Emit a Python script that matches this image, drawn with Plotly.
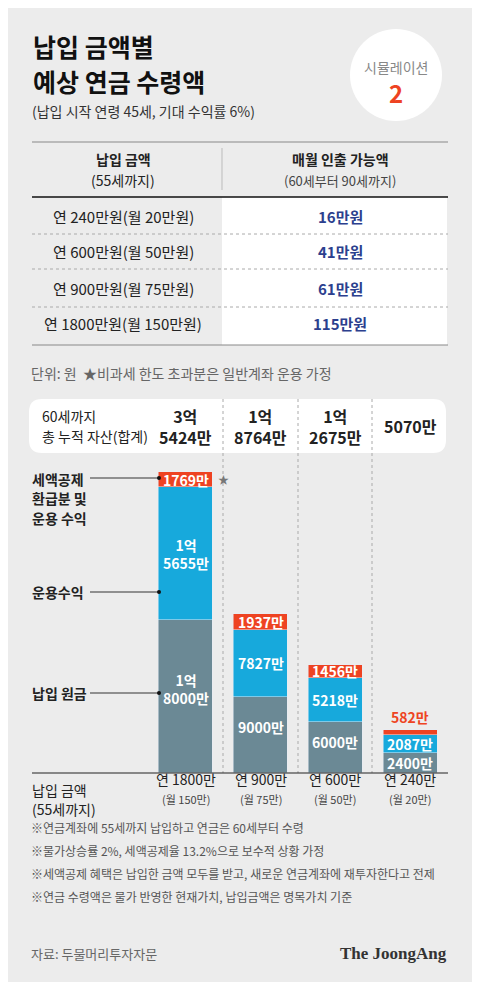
import plotly.graph_objects as go

# data
categories = ["연 1800만", "연 900만", "연 600만", "연 240만"]
monthly = ["(월 150만)", "(월 75만)", "(월 50만)", "(월 20만)"]
principal = [18000, 9000, 6000, 2400]
returns = [15655, 7827, 5218, 2087]
tax_credit = [1769, 1937, 1456, 582]
principal_lbl = ["1억<br>8000만", "9000만", "6000만", "2400만"]
returns_lbl = ["1억<br>5655만", "7827만", "5218만", "2087만"]
credit_lbl = ["1769만", "1937만", "1456만", "582만"]
total_lbl = ["3억<br>5424만", "1억<br>8764만", "1억<br>2675만", "5070만"]

table_pay = ["연 240만원(월 20만원)", "연 600만원(월 50만원)", "연 900만원(월 75만원)", "연 1800만원(월 150만원)"]
table_month = ["16만원", "41만원", "61만원", "115만원"]

notes = ["※연금계좌에 55세까지 납입하고 연금은 60세부터 수령",
         "※물가상승률 2%, 세액공제율 13.2%으로 보수적 상황 가정",
         "※세액공제 혜택은 납입한 금액 모두를 받고, 새로운 연금계좌에 재투자한다고 전제",
         "※연금 수령액은 물가 반영한 현재가치, 납입금액은 명목가치 기준"]

W, H = 480, 982
OFF = 8  # page body margin
FONT = "Noto Sans CJK KR"
GRAY, BLUE, ORANGE = "#6b8995", "#17a9dc", "#ee4322"
NAVY = "#2c3f8e"

def px(x): return (x - OFF) / W
def py(y): return 1 - (y - OFF) / H

fig = go.Figure()
xs = list(range(4))
fig.add_trace(go.Bar(x=xs, y=principal, marker_color=GRAY, width=0.72, hoverinfo="skip"))
fig.add_trace(go.Bar(x=xs, y=returns, marker_color=BLUE, width=0.72, hoverinfo="skip"))
fig.add_trace(go.Bar(x=xs, y=tax_credit, marker_color=ORANGE, width=0.72, hoverinfo="skip"))

ann = []
def text(x, y, t, size=13, color="#222", bold=False, xanchor="left", family=FONT, yanchor="middle"):
    if bold:
        t = "<b>" + t + "</b>"
    ann.append(dict(x=px(x), y=py(y), xref="paper", yref="paper", text=t, showarrow=False,
                    xanchor=xanchor, yanchor=yanchor, align="left" if xanchor == "left" else "center",
                    font=dict(size=size, color=color, family=family)))

# segment labels
for i in xs:
    p, r, c = principal[i], returns[i], tax_credit[i]
    gy = p * 0.55 if i == 0 else (p * 0.5 if i == 3 else p * 0.6)
    ann.append(dict(x=i, y=gy, xref="x", yref="y", text="<b>" + principal_lbl[i] + "</b>",
                    showarrow=False, font=dict(size=14, color="white", family=FONT)))
    ann.append(dict(x=i, y=p + r / 2, xref="x", yref="y", text="<b>" + returns_lbl[i] + "</b>",
                    showarrow=False, font=dict(size=14, color="white", family=FONT)))
    if i < 3:
        ann.append(dict(x=i, y=p + r + c / 2, xref="x", yref="y", text="<b>" + credit_lbl[i] + "</b>",
                        showarrow=False, font=dict(size=14, color="white", family=FONT)))
    else:
        ann.append(dict(x=i, y=p + r + c, xref="x", yref="y", text="<b>" + credit_lbl[i] + "</b>",
                        showarrow=False, yanchor="bottom", yshift=1,
                        font=dict(size=14, color=ORANGE, family=FONT)))
    ann.append(dict(x=i, y=py(426), xref="x", yref="paper", text="<b>" + total_lbl[i] + "</b>",
                    showarrow=False, font=dict(size=16, color="#222", family=FONT)))
    ann.append(dict(x=i, y=py(791), xref="x", yref="paper", text=categories[i],
                    showarrow=False, font=dict(size=14, color="#222", family=FONT)))
    ann.append(dict(x=i, y=py(809), xref="x", yref="paper", text=monthly[i],
                    showarrow=False, font=dict(size=11, color="#444", family=FONT)))

shapes = []
# circle
shapes.append(dict(type="circle", xref="paper", yref="paper", x0=px(350), x1=px(442),
                   y0=py(121), y1=py(29), fillcolor="white", line_width=0))
# table
shapes.append(dict(type="rect", xref="paper", yref="paper", x0=px(222), x1=px(447),
                   y0=py(345), y1=py(197), fillcolor="white", line_width=0, layer="below"))
shapes.append(dict(type="line", xref="paper", yref="paper", x0=px(32), x1=px(448),
                   y0=py(142), y1=py(142), line=dict(color="#888", width=1)))
shapes.append(dict(type="line", xref="paper", yref="paper", x0=px(222), x1=px(222),
                   y0=py(148), y1=py(190), line=dict(color="#bbb", width=1)))
shapes.append(dict(type="line", xref="paper", yref="paper", x0=px(32), x1=px(448),
                   y0=py(197), y1=py(197), line=dict(color="#111", width=1.5)))
for yy in [234, 269, 307]:
    shapes.append(dict(type="line", xref="paper", yref="paper", x0=px(32), x1=px(448),
                       y0=py(yy), y1=py(yy), line=dict(color="#aaa", width=1, dash="dot")))
shapes.append(dict(type="line", xref="paper", yref="paper", x0=px(32), x1=px(448),
                   y0=py(345), y1=py(345), line=dict(color="#888", width=1)))
# totals box
shapes.append(dict(type="path", xref="paper", yref="paper", layer="below",
                   path="M {a},{t} L {b},{t} Q {c},{t} {c},{u} L {c},{v} Q {c},{bt} {b},{bt} L {a},{bt} Q {d},{bt} {d},{v} L {d},{u} Q {d},{t} {a},{t} Z".format(
                       a=px(42), b=px(433), c=px(446), d=px(29), t=py(399), u=py(412), v=py(440), bt=py(453)),
                   fillcolor="white", line_width=0))
for xx in [223, 298, 372]:
    shapes.append(dict(type="line", xref="paper", yref="paper", x0=px(xx), x1=px(xx),
                       y0=py(399), y1=py(773), line=dict(color="#aaa", width=1, dash="dot"), layer="below"))
shapes.append(dict(type="line", xref="paper", yref="paper", x0=px(32), x1=px(448),
                   y0=py(773), y1=py(773), line=dict(color="#222", width=1.2)))
# pointer lines
for yy in [478, 592, 693]:
    shapes.append(dict(type="line", xref="paper", yref="paper", x0=px(90), x1=px(159),
                       y0=py(yy), y1=py(yy), line=dict(color="#333", width=1)))
    shapes.append(dict(type="circle", xref="paper", yref="paper", x0=px(157), x1=px(161),
                       y0=py(yy + 2), y1=py(yy - 2), fillcolor="#111", line_width=0))

# texts
text(31, 46, "납입 금액별", 25, "#111", True)
text(31, 81, "예상 연금 수령액", 25, "#111", True)
text(30, 111, "(납입 시작 연령 45세, 기대 수익률 6%)", 14, "#333")
text(396, 67, "시뮬레이션", 14, "#888", xanchor="center")
text(396, 92, "2", 24, ORANGE, True, xanchor="center")
text(123, 159, "납입 금액", 14, "#222", True, xanchor="center")
text(123, 180, "(55세까지)", 14, "#222", xanchor="center")
text(340, 159, "매월 인출 가능액", 14, "#222", True, xanchor="center")
text(340, 180, "(60세부터 90세까지)", 13, "#444", xanchor="center")
for k, yy in enumerate([216, 252, 288, 323]):
    text(123, yy, table_pay[k], 15, "#222", xanchor="center")
    text(340, yy, table_month[k], 15, NAVY, True, xanchor="center")
text(29, 373, "단위: 원  ★비과세 한도 초과분은 일반계좌 운용 가정", 14, "#666")
text(40, 416, "60세까지", 14, "#222")
text(40, 436, "총 누적 자산(합계)", 14, "#222")
text(30, 479, "세액공제", 14, "#222", True)
text(30, 498, "환급분 및", 14, "#222", True)
text(30, 518, "운용 수익", 14, "#222", True)
text(30, 592, "운용수익", 14, "#222", True)
text(30, 693, "납입 원금", 14, "#222", True)
text(216, 479, "★", 11, "#777")
text(30, 790, "납입 금액", 14, "#222")
text(30, 809, "(55세까지)", 14, "#222")
for k, yy in enumerate([827, 850, 873, 896]):
    text(29, yy, notes[k], 12, "#555")
text(29, 953, "자료: 두물머리투자자문", 13, "#666")
text(449, 953, "The JoongAng", 17, "#333", True, xanchor="right", family="Liberation Serif")

ymax = 35424 * (773 - 400) / (773 - 472)
fig.update_layout(
    width=W, height=H, margin=dict(l=0, r=0, t=0, b=0),
    paper_bgcolor="#ececec", plot_bgcolor="rgba(0,0,0,0)",
    barmode="stack", showlegend=False, bargap=0,
    xaxis=dict(domain=[px(148.5), px(447.5)], range=[-0.5, 3.5], visible=False, fixedrange=True),
    yaxis=dict(domain=[py(773), py(400)], range=[0, ymax], visible=False, fixedrange=True),
    annotations=ann, shapes=shapes, font=dict(family=FONT),
)
fig.write_html("out.html")
